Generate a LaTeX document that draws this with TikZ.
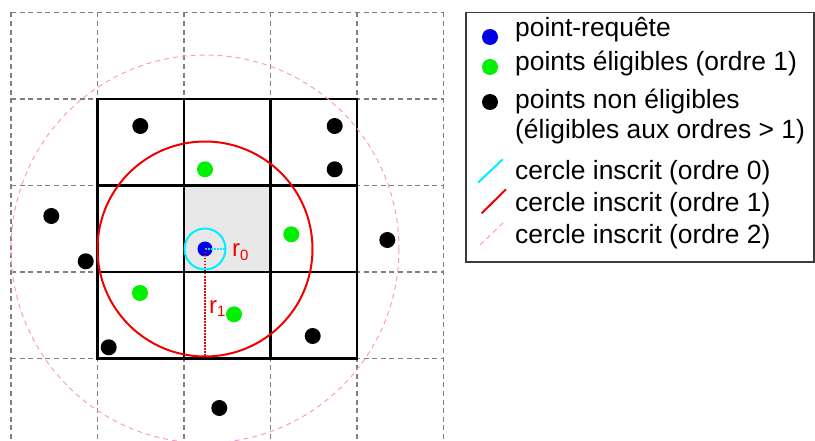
\documentclass[tikz,border=0pt]{standalone}
\usepackage{fontspec}
\setmainfont{Liberation Sans}
\definecolor{cy}{RGB}{0,238,255}
\definecolor{gr}{RGB}{0,240,0}
\definecolor{pk}{RGB}{255,153,204}
\definecolor{rd}{RGB}{240,0,0}
\begin{document}
\begin{tikzpicture}[x=1pt,y=-1pt,
  gridline/.style={draw={rgb,255:red,128;green,128;blue,128},line width=1.4pt,dash pattern=on 5pt off 3.6pt},
  boldline/.style={draw=black,line width=2.2pt},
  dotpt/.style={circle,inner sep=0pt,minimum size=16pt},
  blk/.style={dotpt,fill=black},
  grn/.style={dotpt,fill=gr},
  blu/.style={dotpt,fill={rgb,255:red,0;green,0;blue,230},minimum size=15pt},
  legtext/.style={anchor=base west,inner sep=0pt,font=\fontsize{26.4}{30}\selectfont},
  rlabel/.style={text=rd,inner sep=0pt,font=\fontsize{24}{26}\selectfont}]
\useasboundingbox (0,0) rectangle (815,441);
% dashed grid
\foreach \x in {11,97.5,184,270.5,357,443.5}
  \draw[gridline] (\x,12.5) -- (\x,439);
\foreach \y in {12.5,99,185.5,272,358.5}
  \draw[gridline] (11,\y) -- (443.5,\y);
% shaded cell
\fill[gray!18] (184,185.5) rectangle (270.5,272);
% bold 3x3 block
\draw[boldline] (97.5,99) rectangle (357,358.5);
\draw[boldline] (184,99) -- (184,358.5) (270.5,99) -- (270.5,358.5)
  (97.5,185.5) -- (357,185.5) (97.5,272) -- (357,272);
% circles
\coordinate (q) at (205,249);
\draw[draw=pk,line width=1pt,dash pattern=on 5pt off 4pt] (q) circle[radius=194];
\draw[rd,line width=2pt] (q) circle[radius=107.5];
\draw[cy,line width=2pt] (q) circle[radius=20.5];
% points
\node[blk] (b1) at (140.3,126) {};
\node[blk] (b2) at (334.7,126) {};
\node[blk] (b3) at (334.7,169.3) {};
\node[blk] (b4) at (51.3,216) {};
\node[blk] (b5) at (85.7,261.3) {};
\node[blk] (b6) at (387.3,240) {};
\node[blk] (b7) at (108.7,347.3) {};
\node[blk] (b8) at (312.7,336) {};
\node[blk] (b9) at (219.3,408) {};
\node[grn] (g1) at (205,169.3) {};
\node[grn] (g2) at (291.3,234.3) {};
\node[grn] (g3) at (140,293) {};
\node[grn] (g4) at (234,314.3) {};
\node[blu] (qp) at (q) {};
% radii
\coordinate (r0end) at (225.5,249);
\coordinate (r1end) at (205,356.5);
\draw[cy,line width=1.5pt,dash pattern=on 1.5pt off 1.5pt] (q) -- (r0end);
\draw[rd,line width=1.5pt,dash pattern=on 1.5pt off 1.5pt] (q) -- (r1end);
\node[rlabel,anchor=base west] (r0) at (232,257) {r\textsubscript{\fontsize{15}{15}\selectfont 0}};
\node[rlabel,anchor=base west] (r1) at (209,313) {r\textsubscript{\fontsize{15}{15}\selectfont 1}};
% legend
\draw[draw={rgb,255:red,60;green,60;blue,60},line width=1.5pt] (466,12.5) rectangle (814,262);
\node[blu,minimum size=16pt] (lb) at (490,37) {};
\node[grn] (lg) at (490,67) {};
\node[blk] (lk) at (490,102) {};
\node[legtext] (t1) at (515,36.7) {point-requête};
\node[legtext] (t2) at (515,70.7) {points éligibles (ordre 1)};
\node[legtext] (t3) at (515,108.3) {points non éligibles};
\node[legtext] (t4) at (515,138.3) {(éligibles aux ordres > 1)};
\node[legtext] (t5) at (515,180) {cercle inscrit (ordre 0)};
\node[legtext] (t6) at (515,211.7) {cercle inscrit (ordre 1)};
\node[legtext] (t7) at (515,243.3) {cercle inscrit (ordre 2)};
\coordinate (c0a) at (478,182.7); \coordinate (c0b) at (502.7,159.3);
\coordinate (c1a) at (481.7,213.3); \coordinate (c1b) at (506,189.3);
\coordinate (c2a) at (480,245); \coordinate (c2b) at (504,222);
\draw[cy,line width=2pt] (c0a) -- (c0b);
\draw[rd,line width=2pt] (c1a) -- (c1b);
\draw[draw=pk,line width=1pt,dash pattern=on 5pt off 4pt] (c2a) -- (c2b);
\end{tikzpicture}
\end{document}
